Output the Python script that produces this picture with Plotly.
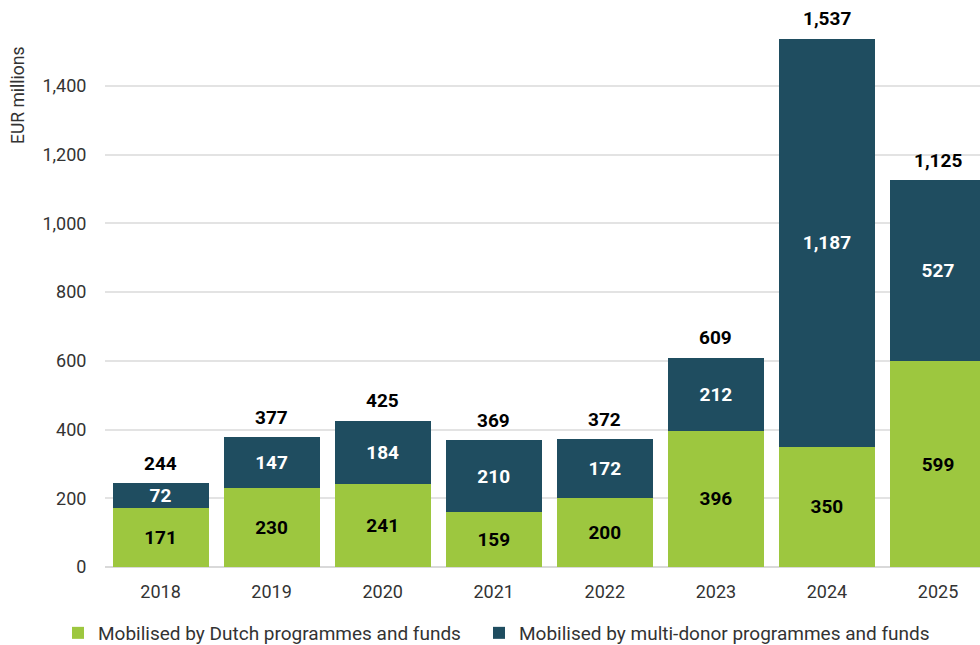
import plotly.graph_objects as go

years = ["2018", "2019", "2020", "2021", "2022", "2023", "2024", "2025"]
dutch = [171, 230, 241, 159, 200, 396, 350, 599]
multi = [72, 147, 184, 210, 172, 212, 1187, 527]
totals = [244, 377, 425, 369, 372, 609, 1537, 1125]

GREEN = "#9DC73F"
DARK = "#1F4D60"
FONT = "Roboto"

fig = go.Figure()
fig.add_trace(go.Bar(
    x=years, y=dutch, name="Mobilised by Dutch programmes and funds",
    legend="legend",
    marker=dict(color=GREEN, line=dict(width=0)),
    text=[f"{v:,}" for v in dutch], textposition="inside", insidetextanchor="middle",
    textangle=0,
    textfont=dict(family=FONT, size=19, color="black", weight="bold"),
))
fig.add_trace(go.Bar(
    x=years, y=multi, name="Mobilised by multi-donor programmes and funds",
    legend="legend2",
    marker=dict(color=DARK, line=dict(width=0)),
    text=[f"{v:,}" for v in multi], textposition="inside", insidetextanchor="middle",
    textangle=0,
    textfont=dict(family=FONT, size=19, color="white", weight="bold"),
))

annotations = [dict(x=i, y=tot, xref="x", yref="y", text=f"{tot:,}", showarrow=False, yshift=20,
                    xanchor="center", yanchor="middle",
                    font=dict(family=FONT, size=19, color="black", weight="bold"))
               for i, tot in enumerate(totals)]
annotations.append(dict(text="EUR millions", textangle=-90, xref="paper", yref="paper",
                        x=(18 - 105) / 875, y=1 - (96 - 17) / 550, xanchor="center", yanchor="middle",
                        showarrow=False, font=dict(family=FONT, size=17.5, color="#333333")))

legend_common = dict(orientation="h", xanchor="left", y=-0.12, yanchor="middle",
                     font=dict(family=FONT, size=19, color="#333333"), itemwidth=30,
                     bgcolor="rgba(0,0,0,0)")

fig.update_layout(
    barmode="stack", bargap=0.135,
    width=980, height=645,
    margin=dict(l=105, r=0, t=17, b=78, autoexpand=False),
    plot_bgcolor="white", paper_bgcolor="white",
    font=dict(family=FONT, size=18, color="#333333"),
    uniformtext=dict(minsize=19, mode="show"),
    showlegend=True,
    legend=dict(x=(58 - 105) / 875, **legend_common),
    legend2=dict(x=(479 - 105) / 875, **legend_common),
    annotations=annotations,
)
fig.update_xaxes(type="category", range=[-0.5, 7.378], showgrid=False, showline=False, automargin=False,
                 ticks="outside", ticklen=8, tickcolor="rgba(0,0,0,0)",
                 tickfont=dict(family=FONT, size=18, color="#333333"))
fig.update_yaxes(range=[0, 1600], tickvals=[0, 200, 400, 600, 800, 1000, 1200, 1400],
                 tickformat=",", showgrid=True, gridcolor="#E3E3E3", gridwidth=1.5,
                 zeroline=True, zerolinecolor="#D9D9D9", zerolinewidth=2, automargin=False,
                 ticks="outside", ticklen=14, tickcolor="rgba(0,0,0,0)",
                 tickfont=dict(family=FONT, size=18, color="#333333"))

fig.write_html("out.html", config={"displayModeBar": False},
               post_script="document.body.style.margin='0';document.body.style.overflow='hidden';")
